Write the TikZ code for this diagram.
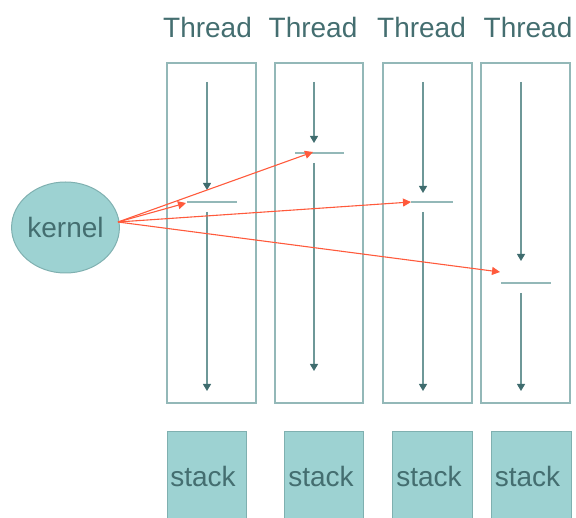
\documentclass[tikz,border=0pt]{standalone}
\usepackage{fontspec}
\setmainfont{Liberation Sans}
\usetikzlibrary{arrows.meta,shapes.geometric}
\definecolor{tealfill}{HTML}{9DD2D2}
\definecolor{tealedge}{HTML}{7FB0B0}
\definecolor{boxline}{HTML}{93B8B8}
\definecolor{flowline}{HTML}{6E9898}
\definecolor{flowtip}{HTML}{3F6C6E}
\definecolor{labeltext}{HTML}{446E70}
\definecolor{signal}{HTML}{FF5A3C}
\begin{document}
\begin{tikzpicture}[x=1pt,y=-1pt,
  threadbox/.style={draw=boxline,line width=1.6pt,rectangle,inner sep=0pt,minimum width=89pt,minimum height=340pt},
  stackbox/.style={draw=tealedge,fill=tealfill,line width=1pt,rectangle,inner sep=0pt,minimum height=100pt},
  kernelnode/.style={ellipse,draw=tealedge,fill=tealfill,line width=1pt,inner sep=0pt,minimum width=106pt,minimum height=91pt,text=labeltext,font=\fontsize{28}{30}\selectfont},
  flow/.style={draw=flowline,line width=1.1pt,-{Triangle[width=8pt,length=7pt,color=flowtip,fill=flowtip]}},
  bar/.style={draw=boxline,line width=2pt},
  signalarrow/.style={draw=signal,line width=1.1pt,-{Triangle[width=8pt,length=8pt]}},
  lbl/.style={text=labeltext,font=\fontsize{28}{30}\selectfont,inner sep=0pt,anchor=base}
]
\useasboundingbox (0,0) rectangle (576,518);
\clip (0,0) rectangle (576,518);

% thread titles
\node[lbl] (title1) at (207.5,38) {Thread};
\node[lbl] (title2) at (313,38) {Thread};
\node[lbl] (title3) at (421.5,38) {Thread};
\node[lbl] (title4) at (528,38) {Thread};

% thread outlines
\node[threadbox] (box1) at (211.5,233) {};
\node[threadbox,minimum width=88pt] (box2) at (319,233) {};
\node[threadbox] (box3) at (427.5,233) {};
\node[threadbox] (box4) at (525.5,233) {};

% stacks
\node[stackbox,minimum width=79pt] (stack1) at (206.5,482) {};
\node[stackbox,minimum width=79pt] (stack2) at (323.5,482) {};
\node[stackbox,minimum width=80pt] (stack3) at (432,482) {};
\node[stackbox,minimum width=80pt] (stack4) at (531,482) {};
\node[lbl] (stacklbl1) at (203,487) {stack};
\node[lbl] (stacklbl2) at (321,487) {stack};
\node[lbl] (stacklbl3) at (429,487) {stack};
\node[lbl] (stacklbl4) at (527.5,487) {stack};

% kernel
\node[kernelnode] (kernel) at (65.5,227.5) {kernel};
\coordinate (src) at (118,222);

% execution paths inside each thread
\coordinate (t1top) at (207,82);   \coordinate (t1stop) at (207,190);
\coordinate (t1go) at (207,212);   \coordinate (t1end) at (207,391);
\coordinate (t2top) at (314,82);   \coordinate (t2stop) at (314,143);
\coordinate (t2go) at (314,163);   \coordinate (t2end) at (314,371);
\coordinate (t3top) at (423,82);   \coordinate (t3stop) at (423,193);
\coordinate (t3go) at (423,212);   \coordinate (t3end) at (423,391);
\coordinate (t4top) at (521,82);   \coordinate (t4stop) at (521,261);
\coordinate (t4go) at (521,293);   \coordinate (t4end) at (521,391);

\draw[flow] (t1top) -- (t1stop);
\draw[flow] (t1go) -- (t1end);
\draw[flow] (t2top) -- (t2stop);
\draw[flow] (t2go) -- (t2end);
\draw[flow] (t3top) -- (t3stop);
\draw[flow] (t3go) -- (t3end);
\draw[flow] (t4top) -- (t4stop);
\draw[flow] (t4go) -- (t4end);

% switch points
\coordinate (b1l) at (187,202); \coordinate (b1r) at (237,202);
\coordinate (b2l) at (295,153); \coordinate (b2r) at (344,153);
\coordinate (b3l) at (411,202); \coordinate (b3r) at (453,202);
\coordinate (b4l) at (501,283); \coordinate (b4r) at (551,283);
\draw[bar] (b1l) -- (b1r);
\draw[bar] (b2l) -- (b2r);
\draw[bar] (b3l) -- (b3r);
\draw[bar] (b4l) -- (b4r);

% kernel dispatching to threads
\coordinate (hit1) at (186,203);
\coordinate (hit2) at (313,152);
\coordinate (hit3) at (411,202);
\coordinate (hit4) at (500,272);
\draw[signalarrow] (src) -- (hit1);
\draw[signalarrow] (src) -- (hit2);
\draw[signalarrow] (src) -- (hit3);
\draw[signalarrow] (src) -- (hit4);
\end{tikzpicture}
\end{document}
